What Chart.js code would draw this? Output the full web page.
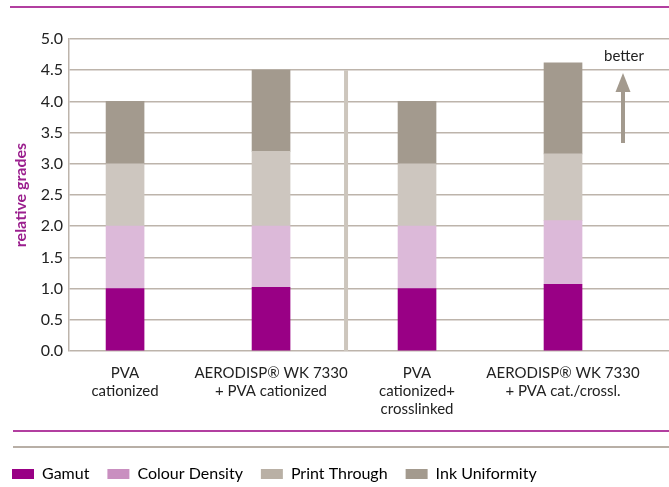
<!DOCTYPE html>
<html>
<head>
<meta charset="utf-8">
<script src="https://cdn.jsdelivr.net/npm/chart.js@4"></script>
<style>
  html, body { margin: 0; padding: 0; background: #fff; }
  #wrap { width: 669px; height: 487px; }
</style>
</head>
<body>
<div id="wrap"><canvas id="chart" width="669" height="487"></canvas></div>
<script>
// data (segment heights of each stack)
const categories = [
  ['PVA', 'cationized'],
  ['AERODISP® WK 7330', '+ PVA cationized'],
  ['PVA', 'cationized+', 'crosslinked'],
  ['AERODISP® WK 7330', '+ PVA cat./crossl.']
];
const seriesNames = ['Gamut', 'Colour Density', 'Print Through', 'Ink Uniformity'];
const gamut = [1.0, 1.02, 1.0, 1.07];
const colourDensity = [1.0, 0.98, 1.0, 1.02];
const printThrough = [1.0, 1.2, 1.0, 1.07];
const inkUniformity = [1.0, 1.3, 1.0, 1.46];
const yTickLabels = ['0.0', '0.5', '1.0', '1.5', '2.0', '2.5', '3.0', '3.5', '4.0', '4.5', '5.0'];

const barColors = ['#990085', '#dcb9d9', '#cdc6bf', '#a39a8e'];
const legendColors = ['#990085', '#c98fc0', '#b9b0a5', '#a39a8e'];
const gridColor = '#bdb4ab';
const font = 'Lato, "Open Sans", sans-serif';

const seriesValues = [gamut, colourDensity, printThrough, inkUniformity];

const datasets = seriesNames.map((name, i) => ({
    label: name,
    data: seriesValues[i].map((v, j) => ({ x: j, y: v })),
    backgroundColor: barColors[i],
    barThickness: 38
}));

const decor = {
    id: 'decor',
    beforeDatasetsDraw(chart) {
        const { ctx, scales: { x, y } } = chart;
        // separator between the two groups
        ctx.save();
        ctx.strokeStyle = '#cdc6bd';
        ctx.lineWidth = 4;
        ctx.beginPath();
        const sx = x.getPixelForValue(1.5) + 2;
        ctx.moveTo(sx, y.getPixelForValue(4.5));
        ctx.lineTo(sx, y.getPixelForValue(0));
        ctx.stroke();
        ctx.restore();
    },
    afterDraw(chart) {
        const { ctx } = chart;
        ctx.save();
        // rules above and below the plot
        ctx.lineWidth = 2;
        ctx.strokeStyle = '#b23fa0';
        ctx.beginPath();
        ctx.moveTo(10, 7); ctx.lineTo(669, 7);
        ctx.moveTo(13, 431); ctx.lineTo(669, 431);
        ctx.stroke();
        ctx.strokeStyle = '#b8afa6';
        ctx.beginPath();
        ctx.moveTo(13, 447); ctx.lineTo(669, 447);
        ctx.stroke();

        // "better" arrow
        const ax = 623;
        ctx.fillStyle = '#a39a8e';
        ctx.fillRect(ax - 2, 90, 4, 53);
        ctx.beginPath();
        ctx.moveTo(ax, 73);
        ctx.lineTo(ax + 7.5, 92);
        ctx.lineTo(ax - 7.5, 92);
        ctx.closePath();
        ctx.fill();
        ctx.fillStyle = '#222';
        ctx.font = '15px ' + font;
        ctx.textAlign = 'center';
        ctx.textBaseline = 'middle';
        ctx.fillText('better', ax + 1, 56);
        ctx.restore();
    }
};

new Chart(document.getElementById('chart'), {
    type: 'bar',
    data: { datasets: datasets },
    plugins: [decor],
    options: {
        responsive: false,
        animation: false,
        layout: { padding: { top: 39, left: -6, right: 0, bottom: -5 } },
        plugins: {
            tooltip: { enabled: false },
            legend: {
                position: 'bottom',
                align: 'start',
                labels: {
                    boxWidth: 22,
                    boxHeight: 10,
                    padding: 18,
                    color: '#222',
                    font: { family: font, size: 16 },
                    generateLabels: () => seriesNames.map((name, i) => ({
                        text: name,
                        fillStyle: legendColors[i],
                        strokeStyle: legendColors[i],
                        lineWidth: 0,
                        datasetIndex: i
                    }))
                }
            }
        },
        scales: {
            x: {
                type: 'linear',
                stacked: true,
                offset: false,
                min: -0.384,
                max: 3.726,
                grid: { display: false },
                border: { display: false },
                afterBuildTicks: (s) => { s.ticks = categories.map((c, i) => ({ value: i })); },
                afterFit: (s) => { s.height = 97; },
                ticks: {
                    autoSkip: false,
                    maxRotation: 0,
                    padding: 5,
                    color: '#222',
                    font: { family: font, size: 15 },
                    callback: (v) => categories[v]
                }
            },
            y: {
                stacked: true,
                min: 0,
                max: 5,
                afterFit: (s) => { s.width = 75; },
                afterBuildTicks: (s) => { s.ticks = yTickLabels.map(t => ({ value: parseFloat(t) })); },
                grid: { color: gridColor, lineWidth: 1.5, drawTicks: false },
                border: { color: gridColor, width: 1.5 },
                ticks: {
                    padding: 6,
                    color: '#222',
                    font: { family: font, size: 16 },
                    callback: (v, i) => yTickLabels[i]
                },
                title: {
                    display: true,
                    text: 'relative grades',
                    color: '#9b1f8e',
                    font: { family: font, size: 16, weight: 'bold' },
                    padding: { top: 17, bottom: 0 }
                }
            }
        }
    }
});
</script>
</body>
</html>
